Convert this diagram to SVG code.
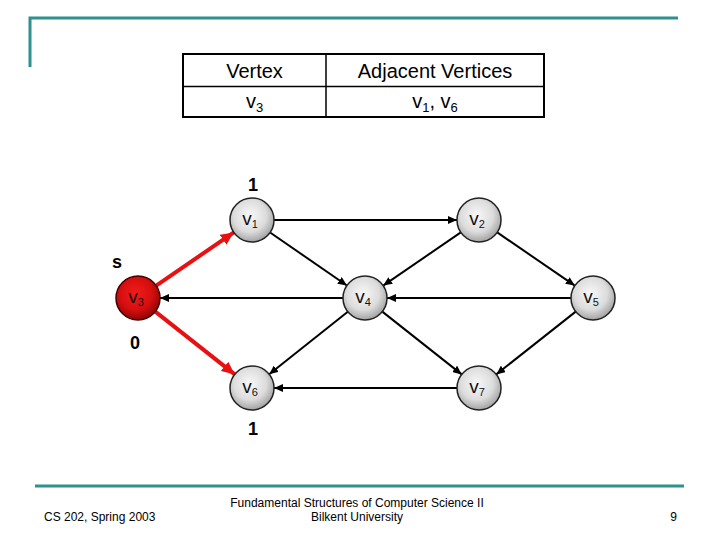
<svg xmlns="http://www.w3.org/2000/svg" width="720" height="540" viewBox="0 0 720 540">
<style>
text{font-family:"Liberation Sans",Arial,sans-serif;fill:#000}
.frame{stroke:#2e9090;stroke-width:3;fill:none}
.tbl{fill:#fff;stroke:#000;stroke-width:2}
.tline{stroke:#000;stroke-width:1.5}
.th{font-size:20px;text-anchor:middle}
.node{fill:url(#gGray);stroke:#222;stroke-width:1.5}
.src{fill:url(#gRed);stroke:#400;stroke-width:1.5}
.nl{font-size:19px;text-anchor:middle;fill:#111}
.sub{font-size:11px}
.e{stroke:#000;stroke-width:2;fill:none;marker-end:url(#ah)}
.r{stroke:#e81010;stroke-width:4;fill:none;marker-end:url(#ahr)}
.lab{font-size:18px;font-weight:bold;text-anchor:middle}
.ft{font-size:12px}
</style>
<defs>
<radialGradient id="gGray" cx="0.45" cy="0.4" r="0.62">
<stop offset="0" stop-color="#f8f8f8"/>
<stop offset="0.6" stop-color="#dcdcdc"/>
<stop offset="1" stop-color="#9e9e9e"/>
</radialGradient>
<radialGradient id="gRed" cx="0.45" cy="0.4" r="0.62">
<stop offset="0" stop-color="#f21c1c"/>
<stop offset="0.6" stop-color="#d60e0e"/>
<stop offset="1" stop-color="#8a0505"/>
</radialGradient>
<marker id="ah" markerUnits="userSpaceOnUse" markerWidth="10" markerHeight="8" refX="9" refY="4" orient="auto">
<path d="M0,0 L9,4 L0,8 z" fill="#000"/>
</marker>
<marker id="ahr" markerUnits="userSpaceOnUse" markerWidth="14" markerHeight="12" refX="13" refY="6" orient="auto">
<path d="M0,0 L13,6 L0,12 z" fill="#e81010"/>
</marker>
</defs>
<rect width="720" height="540" fill="#fff"/>
<g id="frame">
<path class="frame" d="M30,67 V18 H678"/>
<line x1="35" y1="486" x2="684" y2="486" stroke="#2e9090" stroke-width="3"/>
</g>
<g id="table">
<rect class="tbl" x="183" y="54" width="361" height="63"/>
<line class="tline" x1="183" y1="86.5" x2="544" y2="86.5"/>
<line class="tline" x1="326" y1="54" x2="326" y2="117"/>
<text class="th" x="254.5" y="78">Vertex</text>
<text class="th" x="435" y="78">Adjacent Vertices</text>
<text class="th" x="254.5" y="108">v<tspan font-size="13" dy="4">3</tspan></text>
<text class="th" x="435" y="108">v<tspan font-size="13" dy="4">1</tspan><tspan dy="-4">, v</tspan><tspan font-size="13" dy="4">6</tspan></text>
</g>
<g id="connectors">
<line class="e" x1="274" y1="220" x2="457" y2="220"/>
<line class="e" x1="270.1" y1="232.5" x2="346.9" y2="285.5"/>
<line class="e" x1="460.8" y1="232.4" x2="383.2" y2="285.6"/>
<line class="e" x1="497.2" y1="232.4" x2="574.8" y2="285.6"/>
<line class="e" x1="343" y1="298" x2="160" y2="298"/>
<line class="e" x1="571" y1="298" x2="387" y2="298"/>
<line class="e" x1="347.8" y1="311.7" x2="269.2" y2="374.3"/>
<line class="e" x1="382.3" y1="311.6" x2="461.7" y2="374.4"/>
<line class="e" x1="575.7" y1="311.6" x2="496.3" y2="374.4"/>
<line class="e" x1="457" y1="388" x2="274" y2="388"/>
<line class="r" x1="156.2" y1="285.6" x2="233.8" y2="232.4"/>
<line class="r" x1="155.3" y1="311.6" x2="234.7" y2="374.4"/>
</g>
<g id="v1"><circle class="node" cx="252" cy="220" r="22"/><text class="nl" x="250" y="225">v<tspan class="sub" dy="3">1</tspan></text></g>
<g id="v2"><circle class="node" cx="479" cy="220" r="22"/><text class="nl" x="477" y="225">v<tspan class="sub" dy="3">2</tspan></text></g>
<g id="v3"><circle class="src" cx="138" cy="298" r="22"/><text class="nl" x="136" y="303">v<tspan class="sub" dy="3">3</tspan></text></g>
<g id="v4"><circle class="node" cx="365" cy="298" r="22"/><text class="nl" x="363" y="303">v<tspan class="sub" dy="3">4</tspan></text></g>
<g id="v5"><circle class="node" cx="593" cy="298" r="22"/><text class="nl" x="591" y="303">v<tspan class="sub" dy="3">5</tspan></text></g>
<g id="v6"><circle class="node" cx="252" cy="388" r="22"/><text class="nl" x="250" y="393">v<tspan class="sub" dy="3">6</tspan></text></g>
<g id="v7"><circle class="node" cx="479" cy="388" r="22"/><text class="nl" x="477" y="393">v<tspan class="sub" dy="3">7</tspan></text></g>
<g id="labels">
<text class="lab" x="253" y="191">1</text>
<text class="lab" x="117" y="268">s</text>
<text class="lab" x="135" y="349">0</text>
<text class="lab" x="253" y="435">1</text>
</g>
<g id="footer">
<text class="ft" x="44" y="521">CS 202, Spring 2003</text>
<text class="ft" x="357" y="507" text-anchor="middle">Fundamental Structures of Computer Science II</text>
<text class="ft" x="357" y="521" text-anchor="middle">Bilkent University</text>
<text class="ft" x="677" y="521" text-anchor="end">9</text>
</g>
</svg>
